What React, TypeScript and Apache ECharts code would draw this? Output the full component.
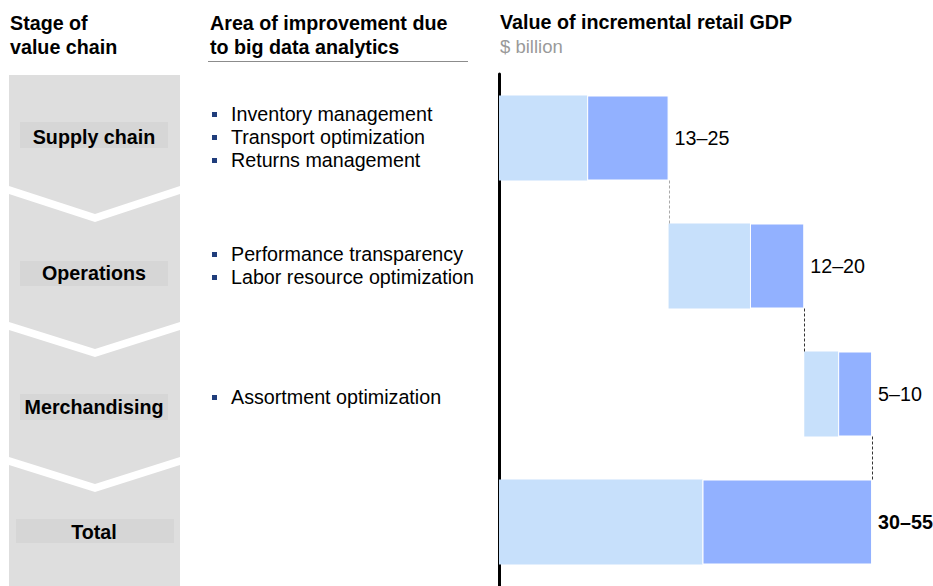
import React, { useEffect, useRef } from "react";
import * as echarts from "echarts";

const categories = ["Supply chain", "Operations", "Merchandising", "Total"];
const lowValues = [13, 12, 5, 30];
const highValues = [25, 20, 10, 55];
const bulletItems = [
  ["Inventory management", "Transport optimization", "Returns management"],
  ["Performance transparency", "Labor resource optimization"],
  ["Assortment optimization"],
  [],
];
const headerStage = ["Stage of", "value chain"];
const headerArea = ["Area of improvement due", "to big data analytics"];
const headerValue = "Value of incremental retail GDP";
const headerUnit = "$ billion";

const FONT = '"Liberation Sans", Arial, Helvetica, sans-serif';
const FS = 19.7;
const LIGHT = "#C7E0FB";
const DARK = "#92B1FF";
const BAR_H = 85;

export default function App() {
  const ref = useRef<HTMLDivElement>(null);
  useEffect(() => {
    if (!ref.current) return;
    const chart = echarts.init(ref.current, null, { renderer: "svg" });

    const n = categories.length;
    const bases: number[] = [];
    let acc = 0;
    for (let i = 0; i < n; i++) {
      if (i === n - 1) bases.push(0);
      else {
        bases.push(acc);
        acc += highValues[i];
      }
    }
    const extras = highValues.map((h, i) => h - lowValues[i]);
    const ends = highValues.map((h, i) => bases[i] + h);
    const rangeLabels = lowValues.map((l, i) => `${l}–${highValues[i]}`);

    const connectorData = ends.slice(0, n - 1).map((e, i) => [e, i]);
    const connectorColors = ["#AAAAAA", "#333333", "#333333"];

    const g: any[] = [];
    const X0 = 9, X1 = 180, XM = 95;
    const chevrons = [
      [[X0, 75], [X1, 75], [X1, 186], [XM, 214], [X0, 186]],
      [[X0, 194], [XM, 222], [X1, 194], [X1, 322], [XM, 349], [X0, 322]],
      [[X0, 330], [XM, 357], [X1, 330], [X1, 457], [XM, 484], [X0, 457]],
      [[X0, 465], [XM, 492], [X1, 465], [X1, 590], [X0, 590]],
    ];
    chevrons.forEach((pts) =>
      g.push({ type: "polygon", shape: { points: pts }, style: { fill: "#DEDEDE" }, silent: true })
    );
    const labelBoxes = [
      [20, 122, 148, 26],
      [20, 261, 148, 25],
      [20, 394, 148, 26],
      [16, 519, 158, 24],
    ];
    const labelY = [137, 273, 407, 532];
    categories.forEach((c, i) => {
      const b = labelBoxes[i];
      g.push({ type: "rect", shape: { x: b[0], y: b[1], width: b[2], height: b[3] }, style: { fill: "#D6D6D6" }, silent: true });
      g.push({
        type: "text",
        style: { text: c, x: 94, y: labelY[i], fill: "#000", font: `bold ${FS}px ${FONT}`, textAlign: "center", textVerticalAlign: "middle" },
        silent: true,
      });
    });
    const bulletY = [[114, 137, 160], [254, 277], [397], []];
    bulletItems.forEach((items, i) =>
      items.forEach((t, j) => {
        const y = bulletY[i][j];
        g.push({ type: "rect", shape: { x: 212, y: y - 2, width: 5, height: 5 }, style: { fill: "#203D7C" }, silent: true });
        g.push({
          type: "text",
          style: { text: t, x: 231, y, fill: "#000", font: `${FS}px ${FONT}`, textAlign: "left", textVerticalAlign: "middle" },
          silent: true,
        });
      })
    );
    headerStage.forEach((t, i) =>
      g.push({ type: "text", style: { text: t, x: 10, y: 23 + i * 24, fill: "#000", font: `bold ${FS}px ${FONT}`, textVerticalAlign: "middle" }, silent: true })
    );
    headerArea.forEach((t, i) =>
      g.push({ type: "text", style: { text: t, x: 210, y: 23 + i * 24, fill: "#000", font: `bold ${FS}px ${FONT}`, textVerticalAlign: "middle" }, silent: true })
    );
    g.push({ type: "line", shape: { x1: 208, y1: 61.5, x2: 468, y2: 61.5 }, style: { stroke: "#8C8C8C", lineWidth: 1 }, silent: true });
    g.push({ type: "text", style: { text: headerValue, x: 500, y: 22, fill: "#000", font: `bold ${FS}px ${FONT}`, textVerticalAlign: "middle" }, silent: true });
    g.push({ type: "text", style: { text: headerUnit, x: 500, y: 46, fill: "#9A9A9A", font: `18.5px ${FONT}`, textVerticalAlign: "middle" }, silent: true });

    chart.setOption({
      animation: false,
      graphic: g,
      grid: { left: 499, right: 27, top: 74, height: 515, containLabel: false },
      xAxis: { type: "value", min: 0, max: 60, show: false },
      yAxis: {
        type: "category",
        data: categories,
        inverse: true,
        axisLine: { show: true, lineStyle: { color: "#000", width: 3 } },
        axisTick: { show: false },
        axisLabel: { show: false },
        splitLine: { show: false },
      },
      series: [
        {
          type: "bar",
          stack: "w",
          data: bases,
          barWidth: BAR_H,
          itemStyle: { color: "transparent" },
          silent: true,
        },
        {
          type: "bar",
          stack: "w",
          data: lowValues,
          barWidth: BAR_H,
          itemStyle: { color: LIGHT },
          silent: true,
        },
        {
          type: "bar",
          stack: "w",
          barWidth: BAR_H,
          itemStyle: { color: DARK, borderColor: "#ffffff", borderWidth: 1 },
          data: extras.map((v, i) => ({
            value: v,
            label: {
              show: true,
              position: "right",
              distance: 6,
              formatter: rangeLabels[i],
              color: "#000",
              fontFamily: FONT,
              fontSize: FS,
              fontWeight: i === n - 1 ? "bold" : "normal",
            },
          })),
          silent: true,
        },
        {
          type: "custom",
          data: connectorData,
          encode: { x: 0, y: 1 },
          z: 5,
          silent: true,
          renderItem: (params: any, api: any) => {
            const x = api.value(0);
            const idx = api.value(1);
            const p1 = api.coord([x, idx]);
            const p2 = api.coord([x, idx + 1]);
            const xx = Math.round(p1[0]) + 0.5;
            return {
              type: "line",
              shape: { x1: xx, y1: p1[1] + BAR_H / 2, x2: xx, y2: p2[1] - BAR_H / 2 },
              style: { stroke: connectorColors[params.dataIndex], lineWidth: 1, lineDash: [3, 2] },
            };
          },
        },
      ],
    });
    return () => chart.dispose();
  }, []);
  return <div ref={ref} style={{ position: "absolute", left: 0, top: 0, width: 933, height: 586 }} />;
}
